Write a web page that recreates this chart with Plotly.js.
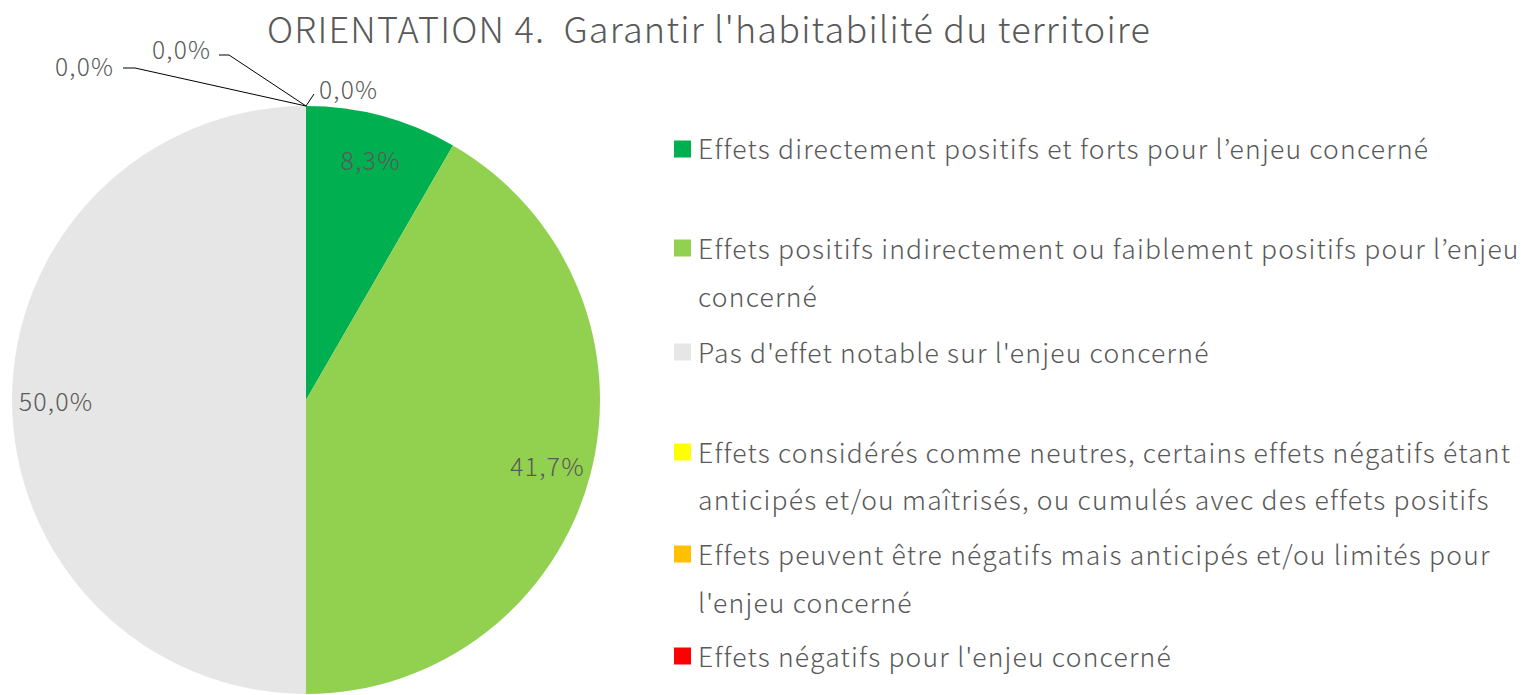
<!DOCTYPE html>
<html>
<head>
<meta charset="utf-8">
<script src="https://cdn.plot.ly/plotly-3.0.1.min.js"></script>
<style>
html,body{margin:0;padding:0;background:#fff;}
#chart{width:1534px;height:695px;}
svg text{letter-spacing:1.2px;}
</style>
</head>
<body>
<div id="chart"></div>
<script>
// ---- data ----
const categories = [
  "Effets directement positifs et forts pour l’enjeu concerné",
  "Effets positifs indirectement ou faiblement positifs pour l’enjeu<br>concerné",
  "Pas d'effet notable sur l'enjeu concerné",
  "Effets considérés comme neutres, certains effets négatifs étant<br>anticipés et/ou maîtrisés, ou cumulés avec des effets positifs",
  "Effets peuvent être négatifs mais anticipés et/ou limités pour<br>l'enjeu concerné",
  "Effets négatifs pour l'enjeu concerné"
];
const values = [1, 5, 6, 0, 0, 0];
const colors = ["#00B050", "#92D050", "#E7E6E6", "#FFFF00", "#FFC000", "#FF0000"];
const titleText = "ORIENTATION 4.  Garantir l'habitabilité du territoire";

// ---- layout helpers ----
const W = 1534, H = 695;
const FONT = "Noto Sans CJK JP, Noto Sans, sans-serif";
const TXT = "#595959";
const px = x => x / W;
const py = y => 1 - y / H;

const cx = 306, cy = 400, R = 294;
const domain = {x: [px(cx - R), px(cx + R)], y: [py(cy + R), py(cy - R)]};

const pieBase = {
  type: "pie", values: values, labels: categories.map(c => c.replace("<br>", " ")),
  sort: false, direction: "clockwise", rotation: 0,
  marker: {colors: colors, line: {width: 0}},
  textinfo: "none", hoverinfo: "label+percent", showlegend: false, domain: domain
};
const pieLabels = {
  type: "pie", values: values, labels: categories.map(c => c.replace("<br>", " ")),
  sort: false, direction: "clockwise", rotation: 0, hole: 0.7,
  marker: {colors: colors.map(() => "rgba(0,0,0,0)"), line: {width: 0}},
  texttemplate: "%{percent:.1%}", textposition: "inside", insidetextorientation: "horizontal",
  textfont: {family: FONT, size: 25, color: TXT, weight: 300},
  hoverinfo: "skip", showlegend: false, domain: domain
};

const total = values.reduce((a, b) => a + b, 0);
const fmtPct = v => (v / total * 100).toFixed(1).replace(".", ",") + "%";

const annotations = [];
const shapes = [];

// title
annotations.push({xref: "paper", yref: "paper", x: px(709), y: py(27),
  xanchor: "center", yanchor: "middle", showarrow: false, text: titleText,
  font: {family: FONT, size: 36, color: TXT, weight: 300}});

// legend: squares + text lines
const legendTop = [149, 248, 352, 452, 554, 656];
const lineGap = 48;
categories.forEach((c, i) => {
  const y0 = legendTop[i];
  shapes.push({type: "rect", xref: "paper", yref: "paper",
    x0: px(674), x1: px(691), y0: py(y0 + 8.5), y1: py(y0 - 8.5),
    fillcolor: colors[i], line: {width: 0}});
  c.split("<br>").forEach((ln, j) => {
    annotations.push({xref: "paper", yref: "paper", x: px(696), y: py(y0 - 1 + j * lineGap),
      xanchor: "left", yanchor: "middle", showarrow: false, text: ln,
      font: {family: FONT, size: 26.5, color: TXT, weight: 300}});
  });
});

// zero-value labels with leader lines from the top of the pie
const zeroLabels = [
  {tx: 116, ty: 66, anchor: "right", path: [[306, 106], [135, 68], [123, 68]]},
  {tx: 213, ty: 49, anchor: "right", path: [[306, 106], [229, 55], [219, 55]]},
  {tx: 317, ty: 88, anchor: "left", path: [[306, 106], [314, 94]]}
];
let z = 0;
values.forEach((v, i) => {
  if (v === 0 && z < zeroLabels.length) {
    const zl = zeroLabels[z++];
    annotations.push({xref: "paper", yref: "paper", x: px(zl.tx), y: py(zl.ty),
      xanchor: zl.anchor, yanchor: "middle", showarrow: false, text: fmtPct(v),
      font: {family: FONT, size: 24.5, color: TXT, weight: 300}});
    const d = zl.path.map((p, k) => (k ? "L" : "M") + px(p[0]) + "," + py(p[1])).join(" ");
    shapes.push({type: "path", xref: "paper", yref: "paper", path: d,
      line: {color: "#000000", width: 1}});
  }
});

const layout = {
  width: W, height: H, margin: {l: 0, r: 0, t: 0, b: 0},
  paper_bgcolor: "#ffffff", separators: ",.",
  showlegend: false, annotations: annotations, shapes: shapes
};

Plotly.newPlot("chart", [pieBase, pieLabels], layout, {displayModeBar: false, staticPlot: true});
</script>
</body>
</html>
